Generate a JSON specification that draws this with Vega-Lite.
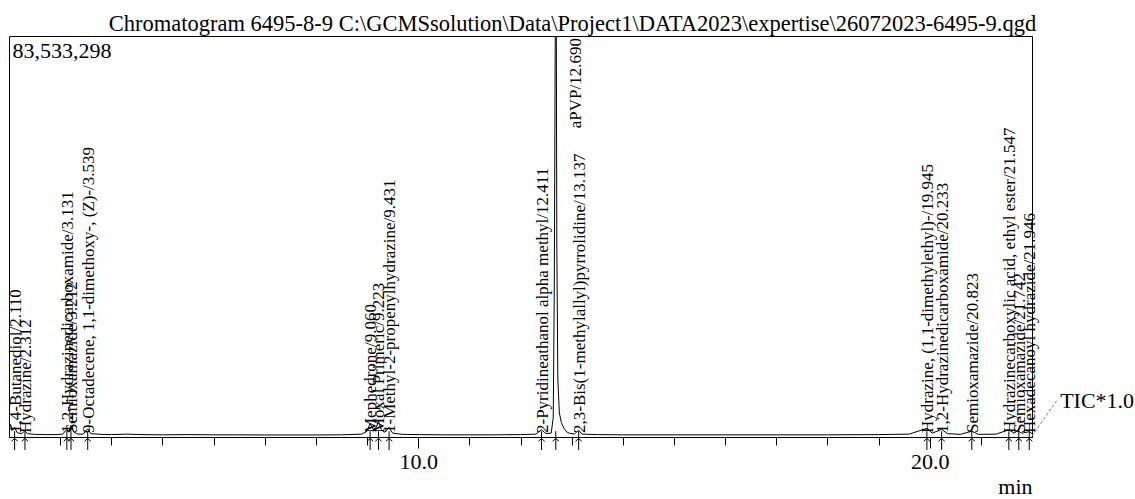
{
  "$schema": "https://vega.github.io/schema/vega-lite/v6.json",
  "width": 1023,
  "height": 401,
  "autosize": {"type": "none"},
  "padding": {"left": 9, "top": 36, "right": 103, "bottom": 62},
  "background": "white",
  "config": {"font": "Liberation Serif", "view": {"stroke": "black", "strokeWidth": 1}},
  "title": {
    "text": "Chromatogram 6495-8-9 C:\\GCMSsolution\\Data\\Project1\\DATA2023\\expertise\\26072023-6495-9.qgd",
    "font": "Liberation Serif", "fontSize": 22.5, "fontWeight": "normal", "color": "black",
    "anchor": "middle", "frame": "group", "dx": 52, "offset": -17, "baseline": "alphabetic"
  },
  "datasets": {
    "trace": [
      {"t": 2.0, "v": 1200000}, {"t": 2.03, "v": 2600000}, {"t": 2.07, "v": 1400000}, {"t": 2.11, "v": 2000000},
      {"t": 2.16, "v": 900000}, {"t": 2.25, "v": 700000}, {"t": 2.31, "v": 1300000}, {"t": 2.36, "v": 700000},
      {"t": 2.5, "v": 550000}, {"t": 2.7, "v": 500000}, {"t": 2.9, "v": 500000}, {"t": 3.05, "v": 600000},
      {"t": 3.13, "v": 1600000}, {"t": 3.17, "v": 1000000}, {"t": 3.21, "v": 2400000}, {"t": 3.27, "v": 1000000},
      {"t": 3.35, "v": 600000}, {"t": 3.45, "v": 600000}, {"t": 3.54, "v": 1700000}, {"t": 3.6, "v": 700000},
      {"t": 3.8, "v": 550000}, {"t": 4.0, "v": 500000}, {"t": 4.3, "v": 600000}, {"t": 4.6, "v": 500000},
      {"t": 5.0, "v": 450000}, {"t": 5.5, "v": 500000}, {"t": 6.0, "v": 450000}, {"t": 6.5, "v": 450000},
      {"t": 7.0, "v": 420000}, {"t": 7.5, "v": 420000}, {"t": 8.0, "v": 420000}, {"t": 8.5, "v": 450000},
      {"t": 8.9, "v": 600000}, {"t": 9.0, "v": 1200000}, {"t": 9.06, "v": 2800000}, {"t": 9.12, "v": 1600000},
      {"t": 9.18, "v": 2000000}, {"t": 9.223, "v": 3300000}, {"t": 9.28, "v": 1500000}, {"t": 9.35, "v": 1000000},
      {"t": 9.431, "v": 2000000}, {"t": 9.5, "v": 800000}, {"t": 9.7, "v": 550000}, {"t": 10.0, "v": 500000},
      {"t": 10.5, "v": 450000}, {"t": 11.0, "v": 450000}, {"t": 11.5, "v": 450000}, {"t": 12.0, "v": 500000},
      {"t": 12.3, "v": 600000}, {"t": 12.411, "v": 1500000}, {"t": 12.5, "v": 700000}, {"t": 12.6, "v": 800000},
      {"t": 12.64, "v": 4000000}, {"t": 12.66, "v": 30000000}, {"t": 12.68, "v": 85000000}, {"t": 12.7, "v": 85000000},
      {"t": 12.71, "v": 40000000}, {"t": 12.73, "v": 12000000}, {"t": 12.76, "v": 5000000}, {"t": 12.8, "v": 3000000},
      {"t": 12.85, "v": 1800000}, {"t": 12.9, "v": 1100000}, {"t": 12.95, "v": 800000}, {"t": 13.05, "v": 600000},
      {"t": 13.137, "v": 1400000}, {"t": 13.2, "v": 600000}, {"t": 13.5, "v": 500000}, {"t": 14.0, "v": 450000},
      {"t": 15.0, "v": 450000}, {"t": 16.0, "v": 450000}, {"t": 17.0, "v": 450000}, {"t": 18.0, "v": 450000},
      {"t": 19.0, "v": 500000}, {"t": 19.6, "v": 600000}, {"t": 19.945, "v": 1800000}, {"t": 20.05, "v": 800000},
      {"t": 20.233, "v": 1600000}, {"t": 20.35, "v": 700000}, {"t": 20.6, "v": 550000}, {"t": 20.823, "v": 1200000},
      {"t": 20.95, "v": 550000}, {"t": 21.3, "v": 600000}, {"t": 21.547, "v": 1500000}, {"t": 21.65, "v": 800000},
      {"t": 21.72, "v": 1300000}, {"t": 21.8, "v": 800000}, {"t": 21.946, "v": 1100000}, {"t": 22.0, "v": 700000}
    ],
    "peaks": [
      {"t": 2.11, "label": "1,4-Butanediol/2.110"},
      {"t": 2.312, "label": "Hydrazine/2.312"},
      {"t": 3.131, "label": "1,2-Hydrazinedicarboxamide/3.131"},
      {"t": 3.212, "label": "Semioxamazide/3.212"},
      {"t": 3.539, "label": "9-Octadecene, 1,1-dimethoxy-, (Z)-/3.539"},
      {"t": 9.06, "label": "Mephedrone/9.060"},
      {"t": 9.223, "label": "Moxal Primeric/9.223"},
      {"t": 9.431, "label": "1-Methyl-2-propenylhydrazine/9.431"},
      {"t": 12.411, "label": "2-Pyridineathanol alpha methyl/12.411"},
      {"t": 12.69, "label": "aPVP/12.690"},
      {"t": 13.137, "label": "2,3-Bis(1-methylallyl)pyrrolidine/13.137"},
      {"t": 19.945, "label": "Hydrazine, (1,1-dimethylethyl)-/19.945"},
      {"t": 20.233, "label": "1,2-Hydrazinedicarboxamide/20.233"},
      {"t": 20.823, "label": "Semioxamazide/20.823"},
      {"t": 21.547, "label": "Hydrazinecarboxylic acid, ethyl ester/21.547"},
      {"t": 21.742, "label": "Semioxamazide/21.742"},
      {"t": 21.946, "label": "Hexadecanoyl hydrazide/21.946"}
    ],
    "tic": [{"t": 22.0, "t2": 22.49, "v": 200000, "v2": 7700000, "tt": 22.55, "tv": 7500000, "label": "TIC*1.0"}]
  },
  "layer": [
    {
      "data": {"name": "trace"},
      "mark": {"type": "line", "color": "black", "strokeWidth": 1, "clip": true},
      "encoding": {
        "x": {
          "field": "t", "type": "quantitative",
          "scale": {"domain": [2, 22], "nice": false, "zero": false},
          "axis": {
            "title": "min", "values": [3,4,5,6,7,8,9,10,11,12,13,14,15,16,17,18,19,20,21],
            "format": ".1f", "labelExpr": "datum.value % 10 == 0 ? datum.label : ''",
            "grid": false, "domainColor": "black", "tickColor": "black",
            "tickSize": {"condition": {"test": "datum.value % 10 == 0", "value": 11}, "value": 8},
            "labelFontSize": 22, "labelColor": "black", "labelPadding": 3, "labelFlush": false, "labelOverlap": false,
            "titleFontSize": 22, "titleFontWeight": "normal", "titleColor": "black",
            "titleAnchor": "end", "titleAlign": "right", "titleX": 1023, "titleY": 56, "titleBaseline": "alphabetic"
          }
        },
        "y": {
          "field": "v", "type": "quantitative",
          "scale": {"domain": [0, 83533298], "nice": false, "zero": false},
          "axis": {
            "title": null, "values": [83533298], "format": ",d", "domain": false, "ticks": false, "tickSize": 0,
            "grid": false, "labelAlign": "left", "labelBaseline": "top", "labelPadding": -3, "labelOffset": 4,
            "labelFontSize": 22, "labelColor": "black", "labelFlush": false, "labelOverlap": false
          }
        }
      }
    },
    {
      "data": {"name": "peaks"},
      "mark": {"type": "rule", "color": "black", "strokeWidth": 1},
      "encoding": {
        "x": {"field": "t", "type": "quantitative"},
        "y": {"datum": 1200000},
        "y2": {"datum": -2700000}
      }
    },
    {
      "data": {"name": "peaks"},
      "mark": {"type": "point", "shape": "M-1,0.9L0,0L1,0.9", "filled": false, "color": "black", "strokeWidth": 1, "size": 40, "opacity": 1},
      "encoding": {
        "x": {"field": "t", "type": "quantitative"},
        "y": {"datum": -300000}
      }
    },
    {
      "data": {"name": "peaks"},
      "transform": [{"filter": "datum.label != 'aPVP/12.690'"}],
      "mark": {"type": "text", "angle": 270, "align": "left", "baseline": "middle", "fontSize": 17, "dx": 4, "dy": 1, "color": "black"},
      "encoding": {
        "x": {"field": "t", "type": "quantitative"},
        "y": {"datum": 0},
        "text": {"field": "label"}
      }
    },
    {
      "data": {"name": "peaks"},
      "transform": [{"filter": "datum.label == 'aPVP/12.690'"}],
      "mark": {"type": "text", "angle": 270, "align": "right", "baseline": "middle", "fontSize": 17, "dx": -2, "dy": 20, "color": "black"},
      "encoding": {
        "x": {"field": "t", "type": "quantitative"},
        "y": {"datum": 83533298},
        "text": {"field": "label"}
      }
    },
    {
      "data": {"name": "tic"},
      "mark": {"type": "rule", "color": "#777777", "strokeWidth": 1, "strokeDash": [3, 2]},
      "encoding": {
        "x": {"field": "t", "type": "quantitative"},
        "x2": {"field": "t2"},
        "y": {"field": "v", "type": "quantitative"},
        "y2": {"field": "v2"}
      }
    },
    {
      "data": {"name": "tic"},
      "mark": {"type": "text", "align": "left", "baseline": "middle", "fontSize": 22, "color": "black"},
      "encoding": {
        "x": {"field": "tt", "type": "quantitative"},
        "y": {"field": "tv", "type": "quantitative"},
        "text": {"field": "label"}
      }
    }
  ]
}
